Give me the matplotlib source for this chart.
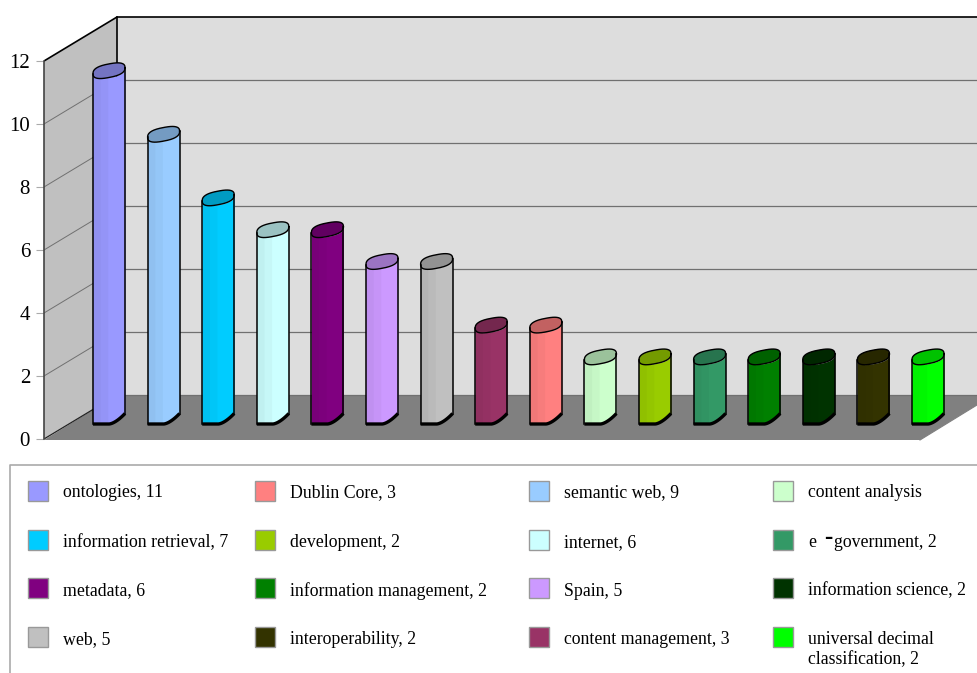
import numpy as np
import matplotlib
matplotlib.use("Agg")
import matplotlib.pyplot as plt
from matplotlib.colors import to_rgb
from matplotlib.patches import Rectangle, Polygon

plt.rcParams['font.family'] = ['Liberation Serif', 'DejaVu Serif']

# --- data ---
bar_names = ['ontologies', 'semantic web', 'information retrieval', 'internet',
             'metadata', 'Spain', 'web', 'content management', 'Dublin Core',
             'content analysis', 'development', 'e-government',
             'information management', 'information science',
             'interoperability', 'universal decimal classification']
bar_values = [11, 9, 7, 6, 6, 5, 5, 3, 3, 2, 2, 2, 2, 2, 2, 2]
bar_colors = ['#9999FF', '#99CCFF', '#00CCFF', '#CCFFFF', '#800080', '#CC99FF',
              '#C0C0C0', '#993366', '#FF8080', '#CCFFCC', '#99CC00', '#339966',
              '#008000', '#003300', '#333300', '#00FF00']
y_ticks = [0, 2, 4, 6, 8, 10, 12]

legend_labels = ['ontologies, 11', 'Dublin Core, 3', 'semantic web, 9', 'content analysis',
                 'information retrieval, 7', 'development, 2', 'internet, 6', None,
                 'metadata, 6', 'information management, 2', 'Spain, 5', 'information science, 2',
                 'web, 5', 'interoperability, 2', 'content management, 3',
                 'universal decimal\nclassification, 2']
legend_colors = ['#9999FF', '#FF8080', '#99CCFF', '#CCFFCC',
                 '#00CCFF', '#99CC00', '#CCFFFF', '#339966',
                 '#800080', '#008000', '#CC99FF', '#003300',
                 '#C0C0C0', '#333300', '#993366', '#00FF00']

W, H = 977, 673
PX_Y = 31.5   # pixels per value unit
PX_X = 54.6   # pixels per category

fig = plt.figure(figsize=(W / 100, H / 100), dpi=100, facecolor='white')
ax = fig.add_axes([44 / W, (H - 439) / H, (W - 44) / W, 439 / H])
ax.set_xlim((44 - 109) / PX_X, (W - 109) / PX_X)
ax.set_ylim(0, 439 / PX_Y)
ax.patch.set_visible(False)
for s in ['top', 'right', 'bottom']:
    ax.spines[s].set_visible(False)
ax.spines['left'].set_bounds(0, 12)
ax.spines['left'].set_color('#444444')
ax.spines['left'].set_linewidth(1.2)
ax.set_xticks([])
ax.set_yticks(y_ticks)
ax.tick_params(axis='y', length=6, width=0.8, color='#AAAAAA', labelsize=15,
               pad=4, labelcolor='black')

# wall / floor geometry in data units
x0, x1 = ax.get_xlim()
dx = 73 / PX_X
dy = 44 / PX_Y
floor_right = x0 + (920 - 44) / PX_X
ymax = 12

ax.add_patch(Polygon([(x0 + dx, dy), (x1, dy), (x1, dy + ymax), (x0 + dx, dy + ymax)],
                     fc='#DDDDDD', ec='none', zorder=1))
ax.add_patch(Polygon([(x0, 0), (x0, ymax), (x0 + dx, ymax + dy), (x0 + dx, dy)],
                     fc='#C0C0C0', ec='none', zorder=1))
ax.add_patch(Polygon([(x0, -1 / PX_Y), (x0 + dx, dy), (x1, dy), (x1, 34 / PX_Y),
                      (floor_right, -1 / PX_Y)],
                     fc='#808080', ec='none', zorder=1, clip_on=False))

for t in y_ticks[1:-1]:
    ax.plot([x0, x0 + dx], [t, t + dy], color='#707070', lw=0.7, zorder=2)
    ax.plot([x0 + dx, x1], [t + dy, t + dy], color='#707070', lw=0.9, zorder=2)
ax.plot([x0, x0 + dx], [0, dy], color='#222222', lw=0.9, zorder=2)
ax.plot([x0 + dx, x1], [dy, dy], color='#707070', lw=0.9, zorder=2)
ax.plot([x0, x0 + dx, x1], [ymax, ymax + dy, ymax + dy], color='black', lw=1.2, zorder=2)
ax.plot([x0 + dx, x0 + dx], [dy, ymax + dy], color='black', lw=1.2, zorder=2)
ax.plot([floor_right, x1], [-1 / PX_Y, 34 / PX_Y], color='#808080', lw=0.8, zorder=2, clip_on=False)

# cylinders, sheared like the old office 3D charts
hw = 16 / PX_X
base = 15 / PX_Y
tilt = 3.0 / PX_Y
semi = 6.8 / PX_Y
rise = 10.5 / PX_Y
P = 2.6   # squarer than a true ellipse
u = np.linspace(-1, 1, 81)
t = np.linspace(0, 2 * np.pi, 161)


def shade(col, f):
    return tuple(c * f for c in to_rgb(col))


def low_edge(c, uu):
    return c + tilt * uu - semi * (1 - np.abs(uu) ** P) ** (1 / P)


def bottom_edge(uu):
    return base + rise * np.clip(uu, 0, 1) ** 1.6


for i, (v, col) in enumerate(zip(bar_values, bar_colors)):
    z = 3 + i
    top_c = base + tilt + 0.5 / PX_Y + v * 31.8 / PX_Y
    ax.fill_between(i + hw * u, bottom_edge(u), low_edge(top_c, u),
                    color=col, lw=0, zorder=z)
    for lo, hi, f in [(-1, -0.08, 0.97), (-1, -0.55, 0.94)]:
        uu = np.linspace(lo, hi, 30)
        ax.fill_between(i + hw * uu, bottom_edge(uu), low_edge(top_c, uu),
                        color=shade(col, f), lw=0, zorder=z)
    c_t, s_t = np.cos(t), np.sin(t)
    ex = np.sign(c_t) * np.abs(c_t) ** (2 / P)
    ey = np.sign(s_t) * np.abs(s_t) ** (2 / P)
    ax.fill(i + hw * ex, top_c + tilt * ex + semi * ey,
            color=shade(col, 0.76), lw=0, zorder=z)
    ax.plot(i + hw * ex, top_c + tilt * ex + semi * ey,
            color='black', lw=1.0, zorder=z)
    ax.plot([i - hw, i - hw], [base, top_c - tilt], color='black', lw=1.1, zorder=z)
    ax.plot([i + hw, i + hw], [base + rise, top_c + tilt], color='black', lw=1.1, zorder=z)
    ax.plot(i + hw * u, bottom_edge(u), color='black', lw=2.4, zorder=z,
            solid_capstyle='butt')

# legend, drawn in pixel coordinates
leg = fig.add_axes([0, 0, 1, 1])
leg.set_xlim(0, W)
leg.set_ylim(H, 0)
leg.axis('off')
leg.patch.set_visible(False)
leg.plot([W, 9.5, 9.5], [465, 465, H], color='#AAAAAA', lw=1.2, clip_on=False)

col_x = [28, 255, 529, 773]
row_y = [481, 530, 578, 627]
text_y = [497, 547, 595.5, 644.5]
for k, (lab, col) in enumerate(zip(legend_labels, legend_colors)):
    r, c = divmod(k, 4)
    leg.add_patch(Rectangle((col_x[c], row_y[r]), 20, 20, fc=col, ec='#999999', lw=1))
    if lab is None:
        continue
    for n, part in enumerate(lab.split('\n')):
        leg.text(col_x[c] + 35, text_y[r] + n * 20, part, fontsize=12.8, va='baseline')

# the odd e-government label with its heavy dash
leg.text(808, text_y[1], 'e', fontsize=12.8, va='baseline')
leg.text(828.5, 544, '-', fontsize=18, va='baseline', fontweight='bold', ha='center')
leg.text(834, text_y[1], 'government, 2', fontsize=12.8, va='baseline')

fig.savefig('out.png', dpi=100)
